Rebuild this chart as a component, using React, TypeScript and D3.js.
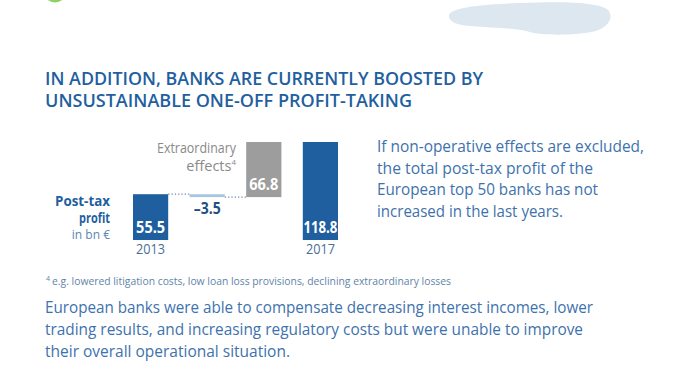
import React from "react";
import * as d3 from "d3";

const categories = ["2013", "delta", "extra", "2017"];
const values = [55.5, -3.5, 66.8, 118.8];
const kinds = ["total", "change", "change", "total"];
const valueLabels = ["55.5", "–3.5", "66.8", "118.8"];
const yearLabels = ["2013", "", "", "2017"];

const titleLines = [
  "IN ADDITION, BANKS ARE CURRENTLY BOOSTED BY",
  "UNSUSTAINABLE ONE-OFF PROFIT-TAKING",
];
const sideLines = [
  "If non-operative effects are excluded,",
  "the total post-tax profit of the",
  "European top 50 banks has not",
  "increased in the last years.",
];
const bodyLines = [
  "European banks were able to compensate decreasing interest incomes, lower",
  "trading results, and increasing regulatory costs but were unable to improve",
  "their overall operational situation.",
];
const footnote = "e.g. lowered litigation costs, low loan loss provisions, declining extraordinary losses";

const DARK = "#1f5f9f";
const LIGHT = "#a9c5e2";
const GRAY = "#9d9d9d";
const TEXT = "#3e72ad";
const FONT = "'Open Sans', 'Noto Sans', sans-serif";

export default function App() {
  const x = d3
    .scaleBand<string>()
    .domain(categories)
    .range([133, 338])
    .paddingInner(0.378)
    .paddingOuter(0);
  const y = d3.scaleLinear().domain([0, 118.8]).range([240, 142]);

  // waterfall bounds
  let running = 0;
  const bars = categories.map((c, i) => {
    let lo: number, hi: number;
    if (kinds[i] === "total") {
      lo = 0;
      hi = values[i];
      running = values[i];
    } else {
      const next = running + values[i];
      lo = Math.min(running, next);
      hi = Math.max(running, next);
      running = next;
    }
    return { c, i, lo, hi, v: values[i] };
  });
  const colors = [DARK, LIGHT, GRAY, DARK];
  const bw = x.bandwidth();
  const labelWidths = [29, 27, 29, 34];

  return (
    <svg
      width={700}
      height={381}
      style={{ position: "absolute", left: 0, top: 0, background: "#fff" }}
      fontFamily={FONT}
    >
      <rect width={700} height={381} fill="#fff" />
      {/* decorations */}
      <circle cx={55} cy={-9} r={11.5} fill="#8fd060" />
      <path
        d="M449,17 C447,9 470,5 520,3 C570,1 600,3 608,10 C614,16 610,28 592,32 C575,35 545,36 530,32 C515,28 495,28 470,26 C455,25 450,21 449,17 Z"
        fill="#dce7f0"
      />

      {/* title */}
      {titleLines.map((t, i) => (
        <text
          key={i}
          x={45}
          y={85 + i * 22}
          fontSize={18}
          fontWeight={600}
          fill={DARK}
          textLength={i === 0 ? 438 : 367}
          lengthAdjust="spacingAndGlyphs"
        >
          {t}
        </text>
      ))}

      {/* connectors */}
      <line
        x1={(x("2013") as number) + bw}
        x2={x("delta") as number}
        y1={y(bars[0].hi)}
        y2={y(bars[0].hi)}
        stroke="#6f8fb3"
        strokeWidth={1.2}
        strokeDasharray="1.3,2"
      />
      <line
        x1={(x("delta") as number) + bw}
        x2={x("extra") as number}
        y1={y(bars[1].lo)}
        y2={y(bars[1].lo)}
        stroke="#6f8fb3"
        strokeWidth={1.2}
        strokeDasharray="1.3,2"
      />

      {/* bars */}
      {bars.map((b) => (
        <rect
          key={b.c}
          x={x(b.c)}
          y={y(b.hi)}
          width={bw}
          height={Math.max(1, y(b.lo) - y(b.hi))}
          fill={colors[b.i]}
        />
      ))}

      {/* value labels */}
      {bars.map((b) => {
        const cx = (x(b.c) as number) + bw / 2;
        const w = labelWidths[b.i];
        return b.v < 0 ? (
          <text
            key={"v" + b.c}
            x={cx - w / 2}
            y={y(b.lo) + 17}
            fontSize={16}
            fontWeight={700}
            fill="#1f4f85"
            textLength={w}
            lengthAdjust="spacingAndGlyphs"
          >
            {valueLabels[b.i]}
          </text>
        ) : (
          <text
            key={"v" + b.c}
            x={cx - w / 2}
            y={y(b.lo) - 7}
            fontSize={16}
            fontWeight={700}
            fill="#fff"
            textLength={w}
            lengthAdjust="spacingAndGlyphs"
          >
            {valueLabels[b.i]}
          </text>
        );
      })}

      {/* year labels */}
      {bars.map((b) =>
        yearLabels[b.i] ? (
          <text
            key={"y" + b.c}
            x={(x(b.c) as number) + bw / 2 - 14.5}
            y={254}
            fontSize={14}
            fill="#4a6f98"
            textLength={29}
            lengthAdjust="spacingAndGlyphs"
          >
            {yearLabels[b.i]}
          </text>
        ) : null
      )}

      {/* axis title */}
      <text x={55} y={206} fontSize={15} fontWeight={700} fill={DARK} textLength={55} lengthAdjust="spacingAndGlyphs">
        Post-tax
      </text>
      <text x={79} y={223} fontSize={15} fontWeight={700} fill={DARK} textLength={31} lengthAdjust="spacingAndGlyphs">
        profit
      </text>
      <text x={110} y={239} textAnchor="end" fontSize={12} fill="#5a86b8">
        in bn €
      </text>

      {/* extraordinary label */}
      <text x={157} y={153} fontSize={14.5} fill="#8a8a8a" textLength={79} lengthAdjust="spacingAndGlyphs">
        Extraordinary
      </text>
      <text x={236} y={171} textAnchor="end" fontSize={14.5} fill="#8a8a8a">
        effects<tspan fontSize={8} dy={-6}>4</tspan>
      </text>

      {/* side text */}
      {sideLines.map((t, i) => (
        <text
          key={i}
          x={377}
          y={152 + i * 21.5}
          fontSize={16.5}
          fill={TEXT}
          textLength={[267, 216, 221, 186][i]}
          lengthAdjust="spacingAndGlyphs"
        >
          {t}
        </text>
      ))}

      {/* footnote */}
      <text x={46} y={285} fontSize={11} fill="#5f84aa">
        <tspan fontSize={7} dy={-4}>4</tspan>
        <tspan dx={2} dy={4} textLength={399} lengthAdjust="spacingAndGlyphs">
          {footnote}
        </tspan>
      </text>

      {/* body */}
      {bodyLines.map((t, i) => (
        <text
          key={i}
          x={45}
          y={313 + i * 22}
          fontSize={17}
          fill={TEXT}
          textLength={[548, 538, 245][i]}
          lengthAdjust="spacingAndGlyphs"
        >
          {t}
        </text>
      ))}
    </svg>
  );
}
